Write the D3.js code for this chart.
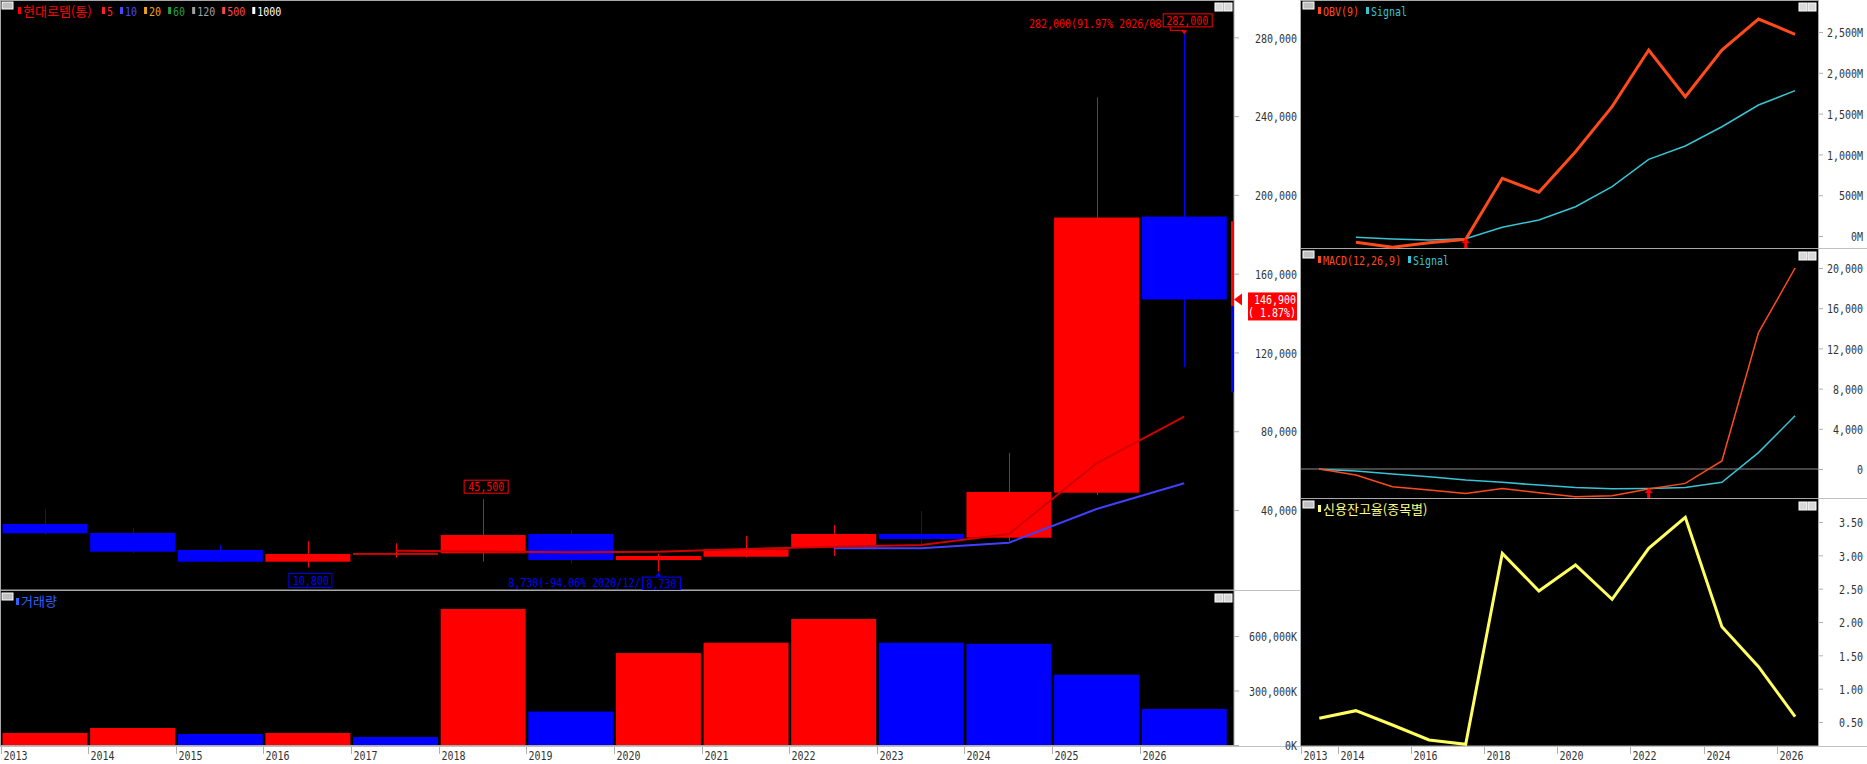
<!DOCTYPE html>
<html>
<head>
<meta charset="utf-8">
<script src="https://cdn.jsdelivr.net/npm/d3@7"></script>
<style>
html,body{margin:0;padding:0;background:#fff;overflow:hidden}
</style>
</head>
<body>
<div id="chart"></div>
<script>
// yearly candles, 현대로템
var years  = [2013,2014,2015,2016,2017,2018,2019,2020,2021,2022,2023,2024,2025,2026];
var open   = [32900,28320,19700,13760,17300,18020,27820,14600,16300,21070,27820,25940,48800,189000];
var close  = [28170,18830,13760,17660,18100,27310,14620,16650,20050,27820,25280,49140,188500,146900];
var high   = [40350,30700,22230,24260,23100,45500,29850,17800,26800,32380,39490,69090,249500,282000];
var low    = [27300,18020,13500,10800,15790,13760,12940,8730,15900,16650,21730,24260,47500,112500];
var ma5    = [null,null,null,null,19340,18930,18530,18830,20200,21370,22230,27820,63700,87460];
var ma10   = [null,null,null,null,null,null,null,null,null,20560,20560,23400,40500,53550];
// volume in K, up = bigger than previous year
var volume = [66000,93600,60500,66000,44000,748600,184000,506000,563000,693600,563000,557000,387000,198000];
var volUp  = [1,1,0,1,0,1,0,1,1,1,0,0,0,0];
// right panels
var obv        = [null,-77,-138,-82,-40,707,535,1033,1585,2279,1707,2279,2659,2472];
var obvSignal  = [null,-16,-37,-49,-33,107,196,359,604,940,1103,1339,1605,1781];
var macd       = [0,-600,-1770,-2100,-2430,-1930,-2370,-2770,-2670,-2000,-1430,800,13570,20000];
var macdSignal = [-30,-200,-500,-770,-1100,-1330,-1600,-1830,-1970,-1930,-1830,-1330,1630,5300];
var credit     = [0.555,0.67,0.455,0.23,0.165,3.03,2.465,2.855,2.34,3.105,3.57,1.93,1.33,0.58];

var priceTicks  = [40000,80000,120000,160000,200000,240000,280000];
var volTicks    = [0,300000,600000];
var obvTicks    = [0,500,1000,1500,2000,2500];
var macdTicks   = [0,4000,8000,12000,16000,20000];
var creditTicks = [0.5,1,1.5,2,2.5,3,3.5];
var rightYears  = [2013,2014,2016,2018,2020,2022,2024,2026];
var maLegend    = [["5","#ff2020"],["10","#4848ff"],["20","#f0a020"],["60","#20a040"],["120","#a0a0a0"],["500","#ff4848"],["1000","#ffffff"]];
var edgeBar     = [186600,143500,99900];
var lastPrice = 146900, lastChange = 1.87;

var width = 1867, height = 764;
var FS = 10;          // mono font size, stretched up to look like the original
var CW = FS * 0.602;  // width of one char

var svg = d3.select("#chart").append("svg")
  .attr("width", width).attr("height", height);

function mtext(parent, str, x, y, color, anchor) {
  return parent.append("text")
    .attr("transform", "translate(" + x + "," + y + ") scale(1,1.3)")
    .attr("fill", color)
    .attr("font-size", FS)
    .attr("text-anchor", anchor || "start")
    .style("font-family", "'DejaVu Sans Mono', monospace")
    .text(str);
}
function ktext(parent, str, x, y, color) {
  return parent.append("text")
    .attr("x", x).attr("y", y)
    .attr("fill", color)
    .attr("font-size", 13)
    .style("font-family", "'Noto Sans CJK KR', sans-serif")
    .text(str);
}
function panelIcons(x0, y0, x1) {
  svg.append("rect").attr("x", x0 + 2).attr("y", y0 + 2).attr("width", 11).attr("height", 7)
    .attr("fill", "#c0c0c0").attr("stroke", "#fff");
  svg.append("rect").attr("x", x1 - 19).attr("y", y0 + 3).attr("width", 8).attr("height", 8)
    .attr("fill", "#d8d8d8").attr("stroke", "#fff");
  svg.append("rect").attr("x", x1 - 10).attr("y", y0 + 3).attr("width", 8).attr("height", 8)
    .attr("fill", "#d8d8d8").attr("stroke", "#fff");
}

// panels
var frame = "#a8a8a8";
[[0.5,0.5,1233.5,589.5],[0.5,590.5,1233.5,155],
 [1300.5,0.5,518,248],[1300.5,248.5,518,250],[1300.5,498.5,518,247.5]].forEach(function(p){
  svg.append("rect").attr("x",p[0]).attr("y",p[1]).attr("width",p[2]).attr("height",p[3])
    .attr("fill","#000").attr("stroke",frame);
});
svg.append("line").attr("x1",1234).attr("x2",1300).attr("y1",590.5).attr("y2",590.5).attr("stroke","#c0c0c0");
svg.append("line").attr("x1",1818).attr("x2",1867).attr("y1",248.5).attr("y2",248.5).attr("stroke","#c0c0c0");
svg.append("line").attr("x1",1818).attr("x2",1867).attr("y1",498.5).attr("y2",498.5).attr("stroke","#c0c0c0");
svg.append("line").attr("x1",0).attr("x2",1867).attr("y1",746.5).attr("y2",746.5).attr("stroke","#c0c0c0");

// scales
var x = d3.scaleBand().domain(years).range([2.5, 1226.7]).paddingInner(0.03);
var bw = x.bandwidth();
var xr = d3.scaleBand().domain(years).range([1301, 1813.4]);
var yP = d3.scaleLinear().domain([0, 280000]).range([588.8, 37.3]);
var yV = d3.scaleLinear().domain([0, 600000]).range([745, 636]);
var yO = d3.scaleLinear().domain([0, 2500]).range([236, 32]);
var yM = d3.scaleLinear().domain([0, 20000]).range([469, 268]);
var yC = d3.scaleLinear().domain([0.5, 3.5]).range([722, 522]);
var idx = d3.range(years.length);
function cx(i) { return x(years[i]) + bw / 2; }
function rx(i) { return xr(years[i]) + xr.bandwidth() / 2; }

svg.append("clipPath").attr("id","clipMain").append("rect").attr("x",1).attr("y",1).attr("width",1233).attr("height",589);
var main = svg.append("g").attr("clip-path","url(#clipMain)");

function col(i) { return close[i] >= open[i] ? "#ff0000" : "#0000ff"; }

main.selectAll(".wick").data(idx).enter().append("line")
  .attr("class","wick")
  .attr("x1", function(i){ return Math.round(cx(i)) + 0.5; })
  .attr("x2", function(i){ return Math.round(cx(i)) + 0.5; })
  .attr("y1", function(i){ return yP(high[i]); })
  .attr("y2", function(i){ return yP(low[i]); })
  .attr("stroke", col).attr("stroke-width", 1);

main.selectAll(".body").data(idx).enter().append("rect")
  .attr("class","body")
  .attr("x", function(i){ return x(years[i]); })
  .attr("y", function(i){ return yP(Math.max(open[i], close[i])); })
  .attr("width", bw)
  .attr("height", function(i){ return Math.max(1, Math.abs(yP(open[i]) - yP(close[i]))); })
  .attr("fill", col);

function maLine(arr) {
  return d3.line().defined(function(i){ return arr[i] != null; })
    .x(cx).y(function(i){ return yP(arr[i]); });
}
main.append("path").attr("d", maLine(ma10)(idx)).attr("fill","none").attr("stroke","#4040ff").attr("stroke-width",2);
main.append("path").attr("d", maLine(ma5)(idx)).attr("fill","none").attr("stroke","#d00000").attr("stroke-width",2);

// partial bar on the right edge
main.append("rect").attr("x",1231).attr("width",3).attr("y",yP(edgeBar[0])).attr("height",yP(edgeBar[1])-yP(edgeBar[0])).attr("fill","#ff0000");
main.append("rect").attr("x",1231).attr("width",3).attr("y",yP(edgeBar[1])).attr("height",yP(edgeBar[2])-yP(edgeBar[1])).attr("fill","#0000ff");

// high / low labels
var hi = 13, c18 = cx(5), c16 = cx(3), c20 = cx(7), c26 = cx(13);
mtext(main, "282,000(91.97% 2026/08", c26 - 23, 28, "#ff0000", "end");
main.append("rect").attr("x", c26 - 21).attr("y", yP(282000) - 19.5).attr("width", 49).attr("height", hi)
  .attr("fill","#000").attr("stroke","#ff0000");
mtext(main, "282,000", c26 - 18, yP(282000) - 8.5, "#ff0000");
main.append("path").attr("d","M" + (c26 - 14) + "," + (yP(282000) - 6) + "V" + (yP(282000) - 3) + "H" + c26)
  .attr("fill","none").attr("stroke","#ff0000");
main.append("path").attr("d","M" + (c26 - 3) + "," + (yP(282000) - 3) + "L" + (c26 + 3) + "," + (yP(282000) - 3) + "L" + c26 + "," + (yP(282000) + 1) + "Z")
  .attr("fill","#ff0000");

main.append("rect").attr("x", c18 - 19).attr("y", yP(45500) - 19).attr("width", 44).attr("height", hi)
  .attr("fill","#000").attr("stroke","#ff0000");
mtext(main, "45,500", c18 - 15, yP(45500) - 8, "#ff0000");

main.append("rect").attr("x", c16 - 19).attr("y", yP(10800) + 6).attr("width", 43).attr("height", hi + 1)
  .attr("fill","#000").attr("stroke","#0000ff");
mtext(main, "10,800", c16 - 15, yP(10800) + 17.5, "#0000ff");

mtext(main, "8,730(-94.06% 2020/12/", c20 - 18, yP(8730) + 15, "#0000ff", "end");
main.append("rect").attr("x", c20 - 16).attr("y", yP(8730) + 5.5).attr("width", 38).attr("height", hi)
  .attr("fill","#000").attr("stroke","#0000ff");
mtext(main, "8,730", c20 - 12, yP(8730) + 16, "#0000ff");
main.append("path").attr("d","M" + (c20 - 3) + "," + (yP(8730) + 5) + "L" + (c20 + 3) + "," + (yP(8730) + 5) + "L" + c20 + "," + (yP(8730) + 1) + "Z")
  .attr("fill","#0000ff");

// volume bars
svg.append("g").selectAll("rect").data(idx).enter().append("rect")
  .attr("x", function(i){ return x(years[i]); })
  .attr("y", function(i){ return yV(volume[i]); })
  .attr("width", bw)
  .attr("height", function(i){ return yV(0) - yV(volume[i]); })
  .attr("fill", function(i){ return volUp[i] ? "#ff0000" : "#0000ff"; });

// axes, labels right aligned
function styleAxis(g, labelX) {
  g.select(".domain").remove();
  g.selectAll(".tick line").attr("stroke", "#b0b0b0");
  g.selectAll(".tick").each(function(){
    var tg = d3.select(this);
    var str = tg.select("text").text();
    tg.select("text").remove();
    mtext(tg, str, labelX, 4.7, "#333", "end");
  });
}
svg.append("g").attr("transform","translate(1234,0)")
  .call(d3.axisRight(yP).tickValues(priceTicks).tickSize(5).tickFormat(d3.format(",")))
  .call(styleAxis, 63);
svg.append("g").attr("transform","translate(1234,0)")
  .call(d3.axisRight(yV).tickValues(volTicks).tickSize(5).tickFormat(function(d){ return d3.format(",")(d) + "K"; }))
  .call(styleAxis, 63);

// current price marker
var yl = yP(lastPrice);
svg.append("path").attr("d","M1234," + yl + "L1242," + (yl - 6) + "L1242," + (yl + 6) + "Z").attr("fill","#ff0000");
svg.append("rect").attr("x",1248).attr("y",yl - 7).attr("width",49).attr("height",28).attr("fill","#ff0000");
mtext(svg, d3.format(",")(lastPrice), 1296, yl + 5, "#fff", "end");
mtext(svg, "( " + lastChange.toFixed(2) + "%)", 1296, yl + 18, "#fff", "end");

// right panel lines
function rLine(arr, ys) {
  return d3.line().defined(function(i){ return arr[i] != null; })
    .x(rx).y(function(i){ return ys(arr[i]); });
}
svg.append("line").attr("x1",1301).attr("x2",1818).attr("y1",yM(0)).attr("y2",yM(0)).attr("stroke","#8a8a8a");
svg.append("path").attr("d", rLine(obvSignal, yO)(idx)).attr("fill","none").attr("stroke","#38c4d4").attr("stroke-width",1.5);
svg.append("path").attr("d", rLine(obv, yO)(idx)).attr("fill","none").attr("stroke","#ff4a1c").attr("stroke-width",3);
svg.append("path").attr("d", rLine(macdSignal, yM)(idx)).attr("fill","none").attr("stroke","#38c4d4").attr("stroke-width",1.5);
svg.append("path").attr("d", rLine(macd, yM)(idx)).attr("fill","none").attr("stroke","#ff4a1c").attr("stroke-width",1.5);
svg.append("path").attr("d", rLine(credit, yC)(idx)).attr("fill","none").attr("stroke","#ffff60").attr("stroke-width",3);

// buy arrows
function upArrow(xc, yb) {
  svg.append("path").attr("d","M" + (xc - 4) + "," + (yb - 5) + "L" + (xc + 4) + "," + (yb - 5) + "L" + xc + "," + (yb - 10) + "Z").attr("fill","#ff0000");
  svg.append("rect").attr("x", xc - 1.5).attr("y", yb - 6).attr("width", 3).attr("height", 6).attr("fill","#ff0000");
}
upArrow(rx(4), 248);
upArrow(rx(9), 498);

// right axes
svg.append("g").attr("transform","translate(1818,0)")
  .call(d3.axisRight(yO).tickValues(obvTicks).tickSize(5).tickFormat(function(d){ return d3.format(",")(d) + "M"; }))
  .call(styleAxis, 45);
svg.append("g").attr("transform","translate(1818,0)")
  .call(d3.axisRight(yM).tickValues(macdTicks).tickSize(5).tickFormat(d3.format(",")))
  .call(styleAxis, 45);
svg.append("g").attr("transform","translate(1818,0)")
  .call(d3.axisRight(yC).tickValues(creditTicks).tickSize(5).tickFormat(d3.format(".2f")))
  .call(styleAxis, 45);

// bottom year labels
years.forEach(function(yr){
  var xs = Math.round(x(yr)) - 1.5;
  svg.append("line").attr("x1",xs).attr("x2",xs).attr("y1",747).attr("y2",754).attr("stroke","#b0b0b0");
  mtext(svg, String(yr), xs + 2, 760, "#333");
});
rightYears.forEach(function(yr){
  var xs = Math.round(xr(yr)) + 0.5;
  svg.append("line").attr("x1",xs).attr("x2",xs).attr("y1",747).attr("y2",754).attr("stroke","#b0b0b0");
  mtext(svg, String(yr), xs + 2, 760, "#333");
});

// legends
panelIcons(0, 0, 1234);
panelIcons(0, 591, 1234);
panelIcons(1301, 0, 1818);
panelIcons(1301, 249, 1818);
panelIcons(1301, 499, 1818);

function marker(xm, ym, color) {
  svg.append("rect").attr("x", xm).attr("y", ym).attr("width", 3).attr("height", 7).attr("fill", color);
}
marker(18, 7, "#ff0000");
ktext(svg, "현대로템(통)", 23, 16, "#ff0000");
var lx = 102;
maLegend.forEach(function(m){
  marker(lx, 7, m[1]);
  mtext(svg, m[0], lx + 5, 16, m[1]);
  lx += 5 + m[0].length * CW + 7;
});

marker(16, 598, "#3060ff");
ktext(svg, "거래량", 21, 606, "#3060ff");

marker(1318, 7, "#ff4a1c");
mtext(svg, "OBV(9)", 1323, 16, "#ff4a1c");
marker(1366, 7, "#38c4d4");
mtext(svg, "Signal", 1371, 16, "#38c4d4");

marker(1318, 256, "#ff4a1c");
mtext(svg, "MACD(12,26,9)", 1323, 265, "#ff4a1c");
marker(1408, 256, "#38c4d4");
mtext(svg, "Signal", 1413, 265, "#38c4d4");

marker(1318, 505, "#ffff80");
ktext(svg, "신용잔고율(종목별)", 1323, 514, "#ffff80");
</script>
</body>
</html>
